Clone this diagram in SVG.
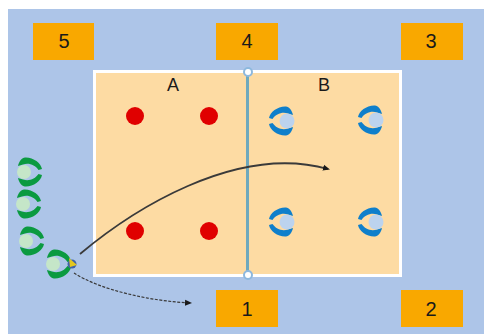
<svg xmlns="http://www.w3.org/2000/svg" width="484" height="334" viewBox="0 0 484 334">
<style>
.lbl{fill:#f9a800}
.t{font-family:"Liberation Sans",Arial,sans-serif;font-size:20px;fill:#1a1a1a;text-anchor:middle}
.t2{font-family:"Liberation Sans",Arial,sans-serif;font-size:18px;fill:#1a1a1a;text-anchor:middle}
.r{fill:#e00000}
.post{fill:#fff;stroke:#8db8de;stroke-width:2}
</style>
<defs>
<marker id="ah" markerUnits="userSpaceOnUse" markerWidth="8" markerHeight="8" refX="5" refY="4" orient="auto"><path d="M0 1L7 4L0 7z" fill="#1a1a1a"/></marker>
<path id="cres" d="M-18 -3C-17 -9 -9 -15 -1 -14.500C2 -14 5 -11 6 -6L1 -7.500C-5 -9.500 -11 -7 -14.500 -2z"/>
<g id="pb" fill="#0f7fcb">
<use href="#cres"/>
<use href="#cres" transform="scale(1,-1)"/>
<circle r="7.500" fill="#bcd3ee"/>
</g>
<g id="pg" fill="#0b9a40">
<use href="#cres" transform="scale(-1,1)"/>
<use href="#cres" transform="scale(-1,-1)"/>
<circle r="7" fill="#c5e6c8"/>
</g>
</defs>
<rect x="0" y="0" width="484" height="334" fill="#fff"/>
<rect x="8" y="9" width="476" height="325" fill="#adc5e8"/>
<rect x="94.500" y="71.500" width="306" height="204" fill="#fddba3" stroke="#fff" stroke-width="3"/>
<g id="zone-5"><rect class="lbl" x="33" y="23" width="61" height="37"/><text class="t" x="64" y="48">5</text></g>
<g id="zone-4"><rect class="lbl" x="216" y="23" width="62" height="37"/><text class="t" x="247" y="48">4</text></g>
<g id="zone-3"><rect class="lbl" x="401" y="23" width="62" height="37"/><text class="t" x="431" y="48">3</text></g>
<g id="zone-1"><rect class="lbl" x="216" y="290" width="62" height="37"/><text class="t" x="247" y="316">1</text></g>
<g id="zone-2"><rect class="lbl" x="401" y="290" width="62" height="37"/><text class="t" x="431" y="316">2</text></g>
<text class="t2" x="173" y="91">A</text>
<text class="t2" x="324" y="91">B</text>
<g id="net">
<line x1="247.500" y1="72" x2="247.500" y2="275" stroke="#6fa9bd" stroke-width="3"/>
<circle class="post" cx="248" cy="72" r="4"/>
<circle class="post" cx="248" cy="275" r="4"/>
</g>
<g id="team-a">
<circle class="r" cx="135" cy="116" r="9"/>
<circle class="r" cx="209" cy="116" r="9"/>
<circle class="r" cx="135" cy="231" r="9"/>
<circle class="r" cx="209" cy="231" r="9"/>
</g>
<g id="team-b">
<use href="#pb" x="287" y="121"/>
<use href="#pb" x="376" y="120"/>
<use href="#pb" x="287" y="222"/>
<use href="#pb" x="376" y="222"/>
</g>
<g id="team-c">
<use href="#pg" x="24" y="172"/>
<use href="#pg" x="23" y="204"/>
<use href="#pg" x="26" y="241"/>
<use href="#pg" x="53" y="264"/>
</g>
<g id="connectors" fill="none" stroke="#3a3a3a">
<path d="M80 254C130 212 235 143 328 169" stroke-width="1.800" marker-end="url(#ah)"/>
<path d="M74 273C100 290 150 301 190 303" stroke-width="1.200" stroke-dasharray="3 1.500" marker-end="url(#ah)"/>
</g>
<g id="ball">
<circle cx="72" cy="264" r="4.500" fill="#3f62a8"/>
<path d="M69 258L77 265L70 267z" fill="#e3c71f"/>
</g>
</svg>
